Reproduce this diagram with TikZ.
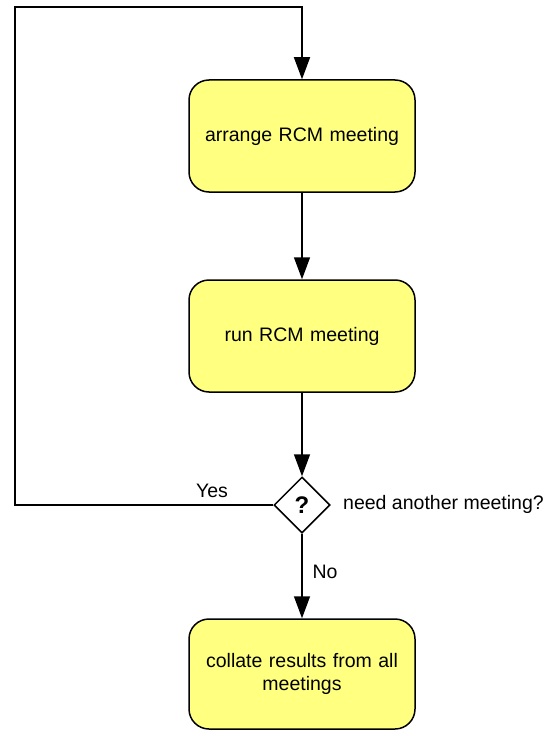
\documentclass[tikz,border=0pt]{standalone}
\usepackage{fontspec}
\setmainfont{Liberation Sans}
\usetikzlibrary{shapes.geometric,arrows.meta}
\definecolor{boxfill}{RGB}{255,255,128}
\begin{document}
\begin{tikzpicture}[x=1pt,y=-1pt,
  every node/.style={font=\fontsize{19.5}{23}\selectfont},
  activity/.style={draw=black,line width=1.5pt,fill=boxfill,rounded corners=20pt,
    minimum width=226pt,minimum height=112pt,align=center,text width=210pt},
  decision/.style={draw=black,line width=1.5pt,fill=white,diamond,aspect=1,
    minimum width=56pt,minimum height=56pt,inner sep=0pt},
  flow/.style={line width=1.5pt,-{Triangle[length=22pt,width=16pt]}},
  lbl/.style={inner sep=0pt}]
\useasboundingbox (0,0) rectangle (551,730);

\node[activity] (b1) at (302,136) {arrange RCM meeting};
\node[activity] (b2) at (302,336) {run RCM meeting};
\node[decision] (d) at (302,505) {\fontsize{24}{24}\selectfont\bfseries ?};
\node[activity,minimum height=110pt] (b3) at (302,674) {collate results from all\\meetings};

\coordinate (cl) at (15,505);
\coordinate (ct) at (15,7);

\draw[flow] (b1.south) -- (b2.north);
\draw[flow] (b2.south) -- (d.north);
\draw[flow] (d.south) -- (b3.north);
\draw[flow] (d.west) -- (cl) -- (ct) -| (b1.north);

\node[lbl] (yes) at (212,491) {Yes};
\node[lbl] (no) at (325,572) {No};
\node[lbl,anchor=west] (q) at (343,504) {need another meeting?};
\end{tikzpicture}
\end{document}
